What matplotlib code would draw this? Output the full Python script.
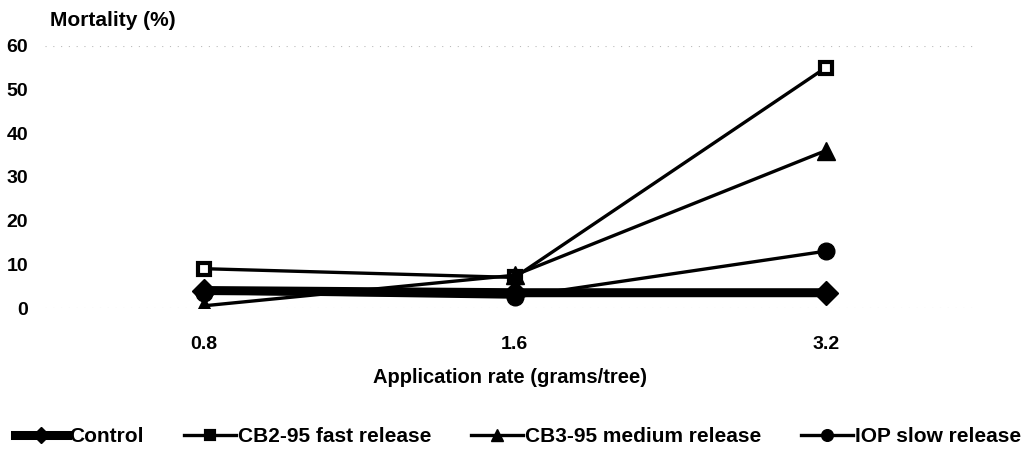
import matplotlib
matplotlib.use('Agg')
import matplotlib.pyplot as plt
import numpy as np

plt.rcParams['font.family'] = ['Liberation Sans', 'DejaVu Sans']

# data
rates = ['0.8', '1.6', '3.2']
control = [4, 3.5, 3.5]
cb2_fast = [9, 7, 55]
cb3_medium = [0.5, 7.5, 36]
iop_slow = [3.5, 2.5, 13]
y_ticks = [0, 10, 20, 30, 40, 50, 60]

x = np.arange(len(rates))

fig = plt.figure(figsize=(10.22, 4.49), dpi=100)
ax = fig.add_axes([0.044, 0.314, 0.91, 0.584])

# faint dotted frame lines like the scan
for yv in (0, 60):
    ax.axhline(yv, color='#bbbbbb', lw=0.8, ls=(0, (1, 6)), zorder=0)

ax.plot(x, cb2_fast, color='black', lw=2.4, marker='s', ms=9,
        mfc='white', mec='black', mew=3, label='CB2-95 fast release', zorder=3)
ax.plot(x, cb3_medium, color='black', lw=2.4, marker='^', ms=13,
        label='CB3-95 medium release', zorder=3)
ax.plot(x, iop_slow, color='black', lw=2.4, marker='o', ms=12,
        label='IOP slow release', zorder=3)
ax.plot(x, control, color='black', lw=6.5, marker='D', ms=12,
        label='Control', zorder=4)

ax.set_xlim(-0.51, 2.48)
ax.set_ylim(0, 60)
ax.set_xticks(x)
ax.set_xticklabels(rates, fontsize=14, fontweight='bold')
ax.set_yticks(y_ticks)
ax.set_yticklabels([str(t) for t in y_ticks], fontsize=14, fontweight='bold')
ax.tick_params(axis='both', length=0)
ax.tick_params(axis='y', pad=12)
ax.tick_params(axis='x', pad=20)
for s in ax.spines.values():
    s.set_visible(False)

ax.set_xlabel('Application rate (grams/tree)', fontsize=14.5, fontweight='bold', labelpad=11)
fig.text(0.049, 0.955, 'Mortality (%)', fontsize=15, fontweight='bold', va='center')

handles, labels = ax.get_legend_handles_labels()
order = [3, 0, 1, 2]
leg = fig.legend([handles[i] for i in order], [labels[i] for i in order],
                 loc='lower center', bbox_to_anchor=(0.507, -0.035), ncol=4,
                 frameon=False, handlelength=2.5, handletextpad=0.1,
                 columnspacing=1.9, markerscale=0.7,
                 prop={'weight': 'bold', 'size': 15})
# legend square is drawn filled in the original
leg.legend_handles[1].set_markerfacecolor('black')

fig.savefig('out.png', dpi=100)
